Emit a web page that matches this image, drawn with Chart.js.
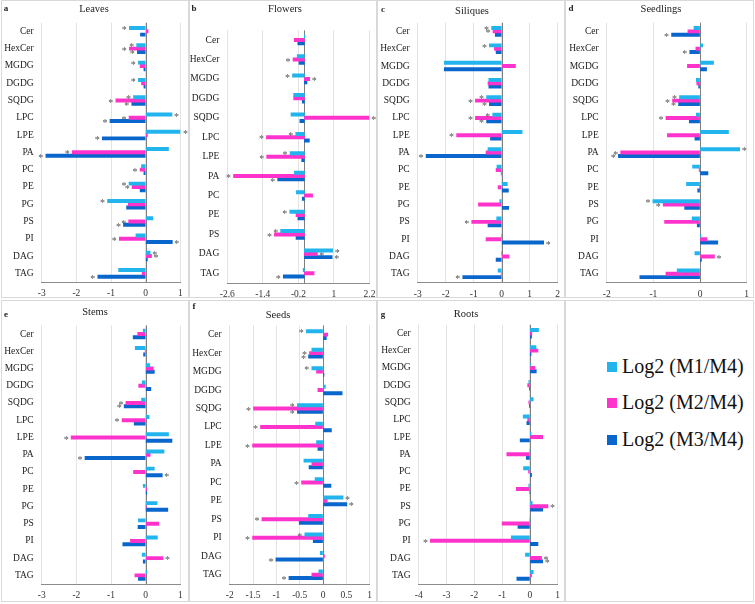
<!DOCTYPE html>
<html>
<head>
<meta charset="utf-8">
<script src="https://cdn.jsdelivr.net/npm/chart.js@4.4.1/dist/chart.umd.min.js"></script>
<style>
body { margin: 0; background: #fff; width: 755px; height: 604px; overflow: hidden; position: relative; font-family: "Liberation Serif", serif; color: #222; }
.box { position: absolute; border: 1px solid #d9d9d9; box-sizing: border-box; }
.box canvas { position: absolute; left: 0; top: 0; }
.lbl { position: absolute; transform: translate(-50%, -50%); white-space: nowrap; }
.ttl { font-size: 10.5px; color: #222; }
.let { font-size: 9px; font-weight: bold; }
.leg { position: absolute; left: 607px; font-size: 20px; color: #111; white-space: nowrap; }
.leg i { display: inline-block; width: 10px; height: 10px; margin-right: 5px; vertical-align: 1px; }
</style>
</head>
<body>

<script>
// category orders
const catsA = ['Cer', 'HexCer', 'MGDG', 'DGDG', 'SQDG', 'LPC', 'LPE', 'PA', 'PC', 'PE', 'PG', 'PS', 'PI', 'DAG', 'TAG'];
const catsB = ['Cer', 'HexCer', 'MGDG', 'DGDG', 'SQDG', 'LPC', 'LPE', 'PA', 'PC', 'PE', 'PS', 'DAG', 'TAG'];
const catsD = ['Cer', 'HexCer', 'MGDG', 'DGDG', 'SQDG', 'LPC', 'LPE', 'PA', 'PC', 'PE', 'PS', 'PG', 'PI', 'DAG', 'TAG'];
const catsF = ['Cer', 'HexCer', 'MGDG', 'DGDG', 'SQDG', 'LPC', 'LPE', 'PA', 'PC', 'PE', 'PS', 'PI', 'DAG', 'TAG'];

const seriesNames = ['Log2 (M1/M4)', 'Log2 (M2/M4)', 'Log2 (M3/M4)'];
const seriesColors = ['#22B4EC', '#FF33CC', '#0866CC'];

// a Leaves
const leavesM1 = [-0.47, -0.26, -0.21, -0.21, -0.35, 0.76, 1.02, 0.66, -0.12, -0.48, -1.10, 0.21, -0.28, 0.13, -0.78];
const leavesM2 = [0.07, -0.47, -0.16, -0.12, -0.86, -0.48, 0.05, -2.12, -0.16, -0.39, -0.50, -0.49, -0.76, 0.17, -0.10];
const leavesM3 = [-0.15, -0.24, -0.05, -0.05, -0.40, -1.03, -1.25, -2.88, -0.05, -0.16, -0.55, -0.64, 0.77, 0.05, -1.38];
const leavesS1 = [1, 1, 1, 1, 1, 1, 1, 0, 0, 1, 1, 0, 0, 1, 0];
const leavesS2 = [0, 1, 0, 0, 1, 1, 0, 1, 1, 1, 0, 1, 1, 1, 0];
const leavesS3 = [0, 1, 0, 0, 1, 1, 1, 1, 0, 0, 0, 1, 1, 0, 1];

// b Flowers
const flowersM1 = [0.02, -0.24, -0.40, -0.36, -0.45, -0.29, -0.48, -0.34, -0.27, -0.49, -0.80, 0.96, -0.04];
const flowersM2 = [-0.34, -0.38, 0.18, -0.36, 2.19, -1.28, -1.27, -2.39, 0.28, -0.28, -1.01, 0.44, 0.33];
const flowersM3 = [-0.22, -0.18, 0.09, -0.07, -0.15, 0.17, -0.09, -0.90, -0.07, -0.22, -0.28, 0.94, -0.71];
const flowersS1 = [0, 0, 1, 0, 0, 1, 1, 0, 0, 1, 1, 1, 0];
const flowersS2 = [0, 1, 1, 0, 1, 1, 1, 1, 0, 0, 1, 1, 0];
const flowersS3 = [0, 0, 0, 0, 0, 0, 0, 1, 0, 0, 0, 1, 1];

// c Siliques
const siliquesM1 = [-0.36, -0.44, -2.05, -0.46, -0.54, -0.32, 0.73, -0.49, -0.17, 0.20, -0.07, -0.18, 0.0, 0.0, -0.13];
const siliquesM2 = [-0.31, -0.26, 0.49, -0.49, -0.94, -0.94, -1.61, -0.56, -0.20, -0.13, -0.83, -1.07, -0.56, 0.26, -0.02];
const siliquesM3 = [-0.23, -0.20, -2.05, -0.46, -0.44, -0.54, -0.40, -2.70, -0.02, 0.24, 0.25, -0.49, 1.50, -0.20, -1.39];
const siliquesS1 = [1, 1, 0, 0, 1, 1, 0, 0, 0, 0, 0, 0, 0, 0, 0];
const siliquesS2 = [1, 0, 0, 0, 1, 1, 1, 0, 0, 0, 0, 1, 0, 0, 0];
const siliquesS3 = [0, 0, 0, 0, 1, 1, 0, 1, 0, 0, 0, 0, 1, 0, 1];

// d Seedlings
const seedlingsM1 = [-0.13, 0.06, 0.29, -0.08, -0.44, -0.08, 0.61, 0.85, -0.16, -0.29, -1.01, -0.17, 0.02, -0.11, -0.49];
const seedlingsM2 = [-0.26, -0.09, -0.27, -0.07, -0.59, -0.73, -0.70, -1.70, -0.02, -0.01, -0.79, -0.76, 0.15, 0.31, -0.73];
const seedlingsM3 = [-0.61, -0.22, 0.14, -0.03, -0.46, -0.23, -0.11, -1.75, 0.17, -0.05, -0.33, -0.06, 0.38, 0.03, -1.29];
const seedlingsS1 = [0, 0, 0, 0, 1, 0, 0, 1, 0, 0, 1, 0, 0, 0, 0];
const seedlingsS2 = [0, 0, 0, 0, 1, 1, 0, 1, 0, 0, 1, 0, 0, 1, 0];
const seedlingsS3 = [1, 1, 0, 0, 1, 0, 0, 1, 0, 0, 0, 0, 0, 0, 0];

// e Stems
const stemsM1 = [-0.07, -0.30, 0.12, -0.10, -0.12, 0.10, 0.66, 0.53, 0.25, -0.07, 0.33, -0.21, 0.34, -0.10, 0.03];
const stemsM2 = [-0.23, -0.01, 0.22, -0.20, -0.57, -0.68, -2.15, 0.13, -0.35, 0.03, 0.01, 0.38, -0.44, 0.50, -0.31];
const stemsM3 = [-0.36, -0.06, 0.25, 0.15, -0.62, -0.33, 0.76, -1.75, 0.48, 0.03, 0.64, -0.22, -0.66, -0.07, -0.21];
const stemsS1 = [0, 0, 0, 0, 0, 0, 0, 0, 0, 0, 0, 0, 0, 0, 0];
const stemsS2 = [0, 0, 0, 0, 1, 1, 1, 0, 0, 0, 0, 0, 0, 1, 0];
const stemsS3 = [0, 0, 0, 0, 1, 0, 0, 1, 1, 0, 0, 0, 0, 0, 0];

// f Seeds
const seedsM1 = [-0.36, -0.24, -0.24, 0.05, -0.55, -0.16, -0.14, -0.41, -0.17, 0.43, -0.31, -0.39, -0.06, -0.09];
const seedsM2 = [0.10, -0.29, -0.14, -0.11, -1.49, -1.34, -1.51, -0.24, -0.46, 0.09, -1.31, -1.51, 0.03, -0.24];
const seedsM3 = [0.07, -0.31, 0.02, 0.41, -0.55, 0.18, -0.11, -0.30, 0.17, 0.51, -0.51, -0.21, -1.01, -0.73];
const seedsS1 = [1, 0, 1, 0, 1, 0, 0, 0, 0, 1, 0, 1, 0, 0];
const seedsS2 = [0, 1, 0, 0, 1, 1, 1, 0, 1, 0, 1, 1, 0, 0];
const seedsS3 = [0, 1, 0, 0, 1, 0, 0, 0, 0, 1, 0, 0, 1, 1];

// g Roots
const rootsM1 = [0.31, 0.22, 0.02, -0.04, 0.12, -0.24, 0.04, 0.0, -0.23, -0.04, 0.08, 0.0, -0.67, -0.16, 0.12];
const rootsM2 = [0.07, 0.29, 0.18, -0.08, -0.04, -0.08, 0.46, -0.83, -0.05, -0.49, 0.65, -1.00, -3.58, 0.42, 0.06];
const rootsM3 = [0.06, 0.04, 0.23, -0.01, -0.01, -0.11, -0.35, -0.13, 0.06, 0.0, 0.46, -0.43, 0.29, 0.46, -0.47];
const rootsS1 = [0, 0, 0, 0, 0, 0, 0, 0, 0, 0, 0, 0, 0, 0, 0];
const rootsS2 = [0, 0, 0, 0, 0, 0, 0, 0, 0, 0, 1, 0, 1, 1, 0];
const rootsS3 = [0, 0, 0, 0, 0, 0, 0, 0, 0, 0, 0, 0, 0, 1, 0];

// x tick labels
const ticks3to1 = [-3, -2, -1, 0, 1];
const ticksFlowers = [-2.6, -1.4, -0.2, 1, 2.2];
const ticks3to2 = [-3, -2, -1, 0, 1, 2];
const ticks2to1 = [-2, -1, 0, 1];
const ticksSeeds = [-2, -1.5, -1, -0.5, 0, 0.5, 1];
const ticks4to1 = [-4, -3, -2, -1, 0, 1];

const panels = [
  { letter: 'a', title: 'Leaves', cats: catsA, m: [leavesM1, leavesM2, leavesM3], s: [leavesS1, leavesS2, leavesS3], ticks: ticks3to1,
    box: [1, 0, 188, 298], area: [41.7, 22.7, 180.3, 282], letPos: [6, 8], titlePos: [94, 8] },
  { letter: 'b', title: 'Flowers', cats: catsB, m: [flowersM1, flowersM2, flowersM3], s: [flowersS1, flowersS2, flowersS3], ticks: ticksFlowers,
    box: [189, 0, 188, 298], area: [227.3, 30.3, 369.5, 283], letPos: [194, 8], titlePos: [285, 8] },
  { letter: 'c', title: 'Siliques', cats: catsA, m: [siliquesM1, siliquesM2, siliquesM3], s: [siliquesS1, siliquesS2, siliquesS3], ticks: ticks3to2,
    box: [377, 0, 188, 298], area: [417.7, 22.7, 557.7, 282.5], letPos: [383, 9], titlePos: [472, 10] },
  { letter: 'd', title: 'Seedlings', cats: catsD, m: [seedlingsM1, seedlingsM2, seedlingsM3], s: [seedlingsS1, seedlingsS2, seedlingsS3], ticks: ticks2to1,
    box: [565, 0, 189, 298], area: [606.7, 22.7, 746.7, 282.5], letPos: [571, 8], titlePos: [661, 8] },
  { letter: 'e', title: 'Stems', cats: catsA, m: [stemsM1, stemsM2, stemsM3], s: [stemsS1, stemsS2, stemsS3], ticks: ticks3to1,
    box: [1, 300, 188, 302], area: [41.7, 325.4, 180.3, 584], letPos: [6, 314], titlePos: [95, 311] },
  { letter: 'f', title: 'Seeds', cats: catsF, m: [seedsM1, seedsM2, seedsM3], s: [seedsS1, seedsS2, seedsS3], ticks: ticksSeeds,
    box: [189, 300, 188, 302], area: [229.7, 325.4, 369.7, 584], letPos: [194, 306], titlePos: [278, 314] },
  { letter: 'g', title: 'Roots', cats: catsD, m: [rootsM1, rootsM2, rootsM3], s: [rootsS1, rootsS2, rootsS3], ticks: ticks4to1,
    box: [377, 300, 188, 302], area: [418.7, 324.7, 557.7, 584], letPos: [383, 314], titlePos: [466, 313] }
];

const serif = "'Liberation Serif', 'Times New Roman', serif";
Chart.defaults.font.family = serif;

// zero line + asterisks
const extras = {
  id: 'extras',
  beforeDatasetsDraw(chart) {
    const ctx = chart.ctx, x = chart.scales.x.getPixelForValue(0), a = chart.chartArea;
    ctx.save();
    ctx.strokeStyle = '#7f7f7f';
    ctx.lineWidth = 1;
    ctx.beginPath();
    ctx.moveTo(Math.round(x) + 0.5, a.top);
    ctx.lineTo(Math.round(x) + 0.5, a.bottom);
    ctx.stroke();
    ctx.restore();
  },
  afterDatasetsDraw(chart) {
    const ctx = chart.ctx;
    ctx.save();
    ctx.font = '10px ' + serif;
    ctx.fillStyle = '#555';
    ctx.textAlign = 'center';
    ctx.textBaseline = 'middle';
    chart.data.datasets.forEach((ds, i) => {
      chart.getDatasetMeta(i).data.forEach((bar, j) => {
        if (!ds.sig[j]) return;
        const x = bar.x + (ds.data[j] < 0 ? -5 : 4.5);
        ctx.fillText('*', x, bar.y + 2.5);
      });
    });
    ctx.restore();
  }
};

function addLabel(cls, text, pos) {
  const d = document.createElement('div');
  d.className = 'lbl ' + cls;
  d.textContent = text;
  d.style.left = pos[0] + 'px';
  d.style.top = pos[1] + 'px';
  document.body.appendChild(d);
}

function buildPanel(p) {
  const [bx, by, bw, bh] = p.box;
  const box = document.createElement('div');
  box.className = 'box';
  box.style.left = bx + 'px';
  box.style.top = by + 'px';
  box.style.width = bw + 'px';
  box.style.height = bh + 'px';
  const cv = document.createElement('canvas');
  const cw = bw - 2, ch = bh - 2;
  cv.width = cw; cv.height = ch;
  cv.style.width = cw + 'px'; cv.style.height = ch + 'px';
  box.appendChild(cv);
  document.body.appendChild(box);

  const ox = bx + 1, oy = by + 1;
  const L = p.area[0] - ox, T = p.area[1] - oy, R = p.area[2] - ox, B = p.area[3] - oy;

  new Chart(cv, {
    type: 'bar',
    data: {
      labels: p.cats,
      datasets: p.m.map((vals, i) => ({
        label: seriesNames[i],
        data: vals,
        sig: p.s[i],
        backgroundColor: seriesColors[i],
        borderWidth: 0,
        barThickness: 3.3
      }))
    },
    options: {
      indexAxis: 'y',
      responsive: false,
      animation: false,
      devicePixelRatio: 1,
      layout: { padding: { top: T, right: cw - R, bottom: 0, left: 0 } },
      plugins: { legend: { display: false }, tooltip: { enabled: false } },
      scales: {
        x: {
          type: 'linear',
          min: p.ticks[0],
          max: p.ticks[p.ticks.length - 1],
          afterBuildTicks: s => { s.ticks = p.ticks.map(v => ({ value: v })); },
          afterFit: s => { s.height = ch - B; s.paddingLeft = 0; s.paddingRight = 0; },
          grid: { color: '#e3e3e3', drawTicks: false },
          border: { display: true, color: '#8c8c8c' },
          ticks: { padding: 6, color: '#333', font: { family: serif, size: 9.5 }, callback: v => String(v), maxRotation: 0, autoSkip: false }
        },
        y: {
          afterFit: s => { s.width = L; s.paddingTop = 0; s.paddingBottom = 0; },
          grid: { display: false, drawTicks: false },
          border: { display: false },
          ticks: { padding: 8, color: '#222', font: { family: serif, size: 9.5 }, autoSkip: false }
        }
      }
    },
    plugins: [extras]
  });

  addLabel('let', p.letter, p.letPos);
  addLabel('ttl', p.title, p.titlePos);
}

// legend panel
const legBox = document.createElement('div');
legBox.className = 'box';
legBox.style.left = '565px'; legBox.style.top = '300px';
legBox.style.width = '189px'; legBox.style.height = '302px';
document.body.appendChild(legBox);
const legY = [367, 403, 440];
seriesNames.forEach((n, i) => {
  const d = document.createElement('div');
  d.className = 'leg';
  d.style.top = (legY[i] - 12) + 'px';
  const sw = document.createElement('i');
  sw.style.background = seriesColors[i];
  d.appendChild(sw);
  d.appendChild(document.createTextNode(n));
  document.body.appendChild(d);
});

document.fonts.load("10px 'Liberation Serif'").then(() => {
  panels.forEach(buildPanel);
});
</script>
</body>
</html>
